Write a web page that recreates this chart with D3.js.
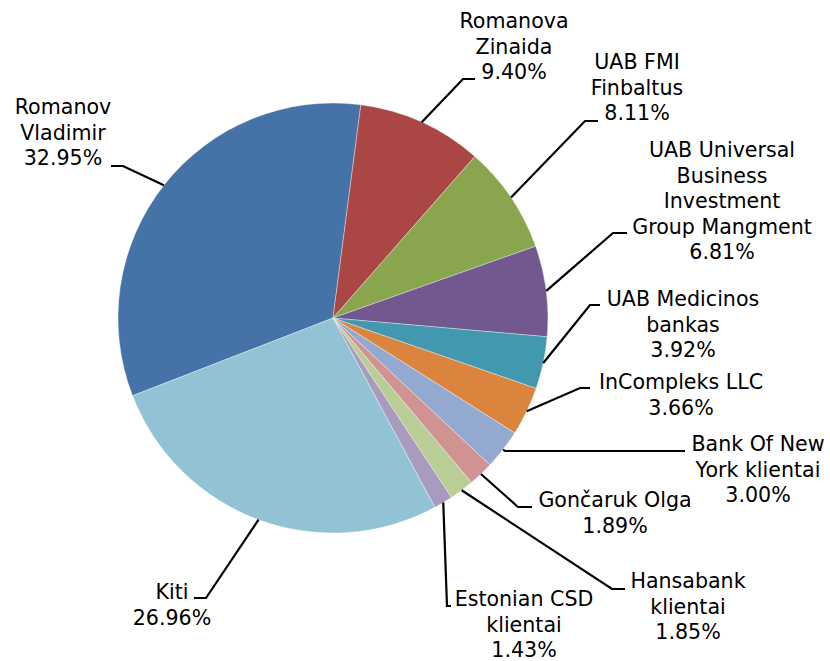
<!DOCTYPE html>
<html>
<head>
<meta charset="utf-8">
<script src="https://cdn.jsdelivr.net/npm/d3@7"></script>
<style>
  body { margin: 0; background: #fff; }
  text { font-family: "DejaVu Sans", Verdana, sans-serif; font-size: 20.6px; fill: #000; }
</style>
</head>
<body>
<div id="chart"></div>
<script>
// categories (label line breaks marked with \n)
const names = [
  "Romanov\nVladimir", "Romanova\nZinaida", "UAB FMI\nFinbaltus",
  "UAB Universal\nBusiness\nInvestment\nGroup Mangment",
  "UAB Medicinos\nbankas", "InCompleks LLC", "Bank Of New\nYork klientai",
  "Gončaruk Olga", "Hansabank\nklientai", "Estonian CSD\nklientai", "Kiti"
];
// shares, percent
const shares = [32.95, 9.40, 8.11, 6.81, 3.92, 3.66, 3.00, 1.89, 1.85, 1.43, 26.96];
const colors = ["#4572A7", "#AA4643", "#89A54E", "#71588F", "#4198AF", "#DB843D",
                "#93A9CF", "#D19392", "#B9CD96", "#A99BBD", "#92C3D5"];

// label placement: text centre x, first baseline y, elbow of leader, end of leader
const labelPos = [
  { cx: 63,  y: 114, elbow: [123, 166], end: [111, 166] },
  { cx: 514, y: 28,  elbow: [463, 79],  end: [475, 79] },
  { cx: 637, y: 69,  elbow: [585, 121], end: [598, 121] },
  { cx: 722, y: 157, elbow: [613, 233], end: [627, 233] },
  { cx: 683, y: 306, elbow: [590, 305], end: [600, 305] },
  { cx: 681, y: 389, elbow: [580, 388], end: [590, 388] },
  { cx: 758, y: 451, elbow: [505, 451], end: [685, 451] },
  { cx: 615, y: 507, elbow: [518, 507], end: [532, 507] },
  { cx: 688, y: 588, elbow: [612, 589], end: [625, 589] },
  { cx: 524, y: 606, elbow: [447, 606], end: [451, 606] },
  { cx: 172, y: 599, elbow: [206, 598], end: [194, 598] }
];

const width = 830, height = 661;
const cx = 333, cy = 318, radius = 215;
const lineHeight = 25.5;
const start = 248.8 * Math.PI / 180;

const svg = d3.select("#chart").append("svg")
  .attr("width", width)
  .attr("height", height);

const pie = d3.pie().sort(null).value(d => d)
  .startAngle(start).endAngle(start + 2 * Math.PI);
const arcs = pie(shares);

const arc = d3.arc().innerRadius(0).outerRadius(radius);
const edge = d3.arc().innerRadius(radius).outerRadius(radius);

const g = svg.append("g").attr("transform", "translate(" + cx + "," + cy + ")");

g.selectAll("path.slice")
  .data(arcs)
  .enter().append("path")
  .attr("class", "slice")
  .attr("d", arc)
  .attr("fill", (d, i) => colors[i])
  .attr("stroke", "#fff")
  .attr("stroke-width", 0.6)
  .attr("stroke-opacity", 0.6);

// leader lines
svg.selectAll("polyline.leader")
  .data(arcs)
  .enter().append("polyline")
  .attr("class", "leader")
  .attr("points", (d, i) => {
    const p = edge.centroid(d);
    const L = labelPos[i];
    return [[p[0] + cx, p[1] + cy], L.elbow, L.end].map(q => q.join(",")).join(" ");
  })
  .attr("fill", "none")
  .attr("stroke", "#000")
  .attr("stroke-width", 2.2);

// labels
const labels = svg.selectAll("text.label")
  .data(arcs)
  .enter().append("text")
  .attr("class", "label")
  .attr("text-anchor", "middle");

labels.each(function(d, i) {
  const lines = names[i].split("\n").concat([shares[i].toFixed(2) + "%"]);
  const L = labelPos[i];
  d3.select(this).selectAll("tspan")
    .data(lines)
    .enter().append("tspan")
    .attr("x", L.cx)
    .attr("y", (t, j) => L.y + j * lineHeight)
    .text(t => t);
});
</script>
</body>
</html>
